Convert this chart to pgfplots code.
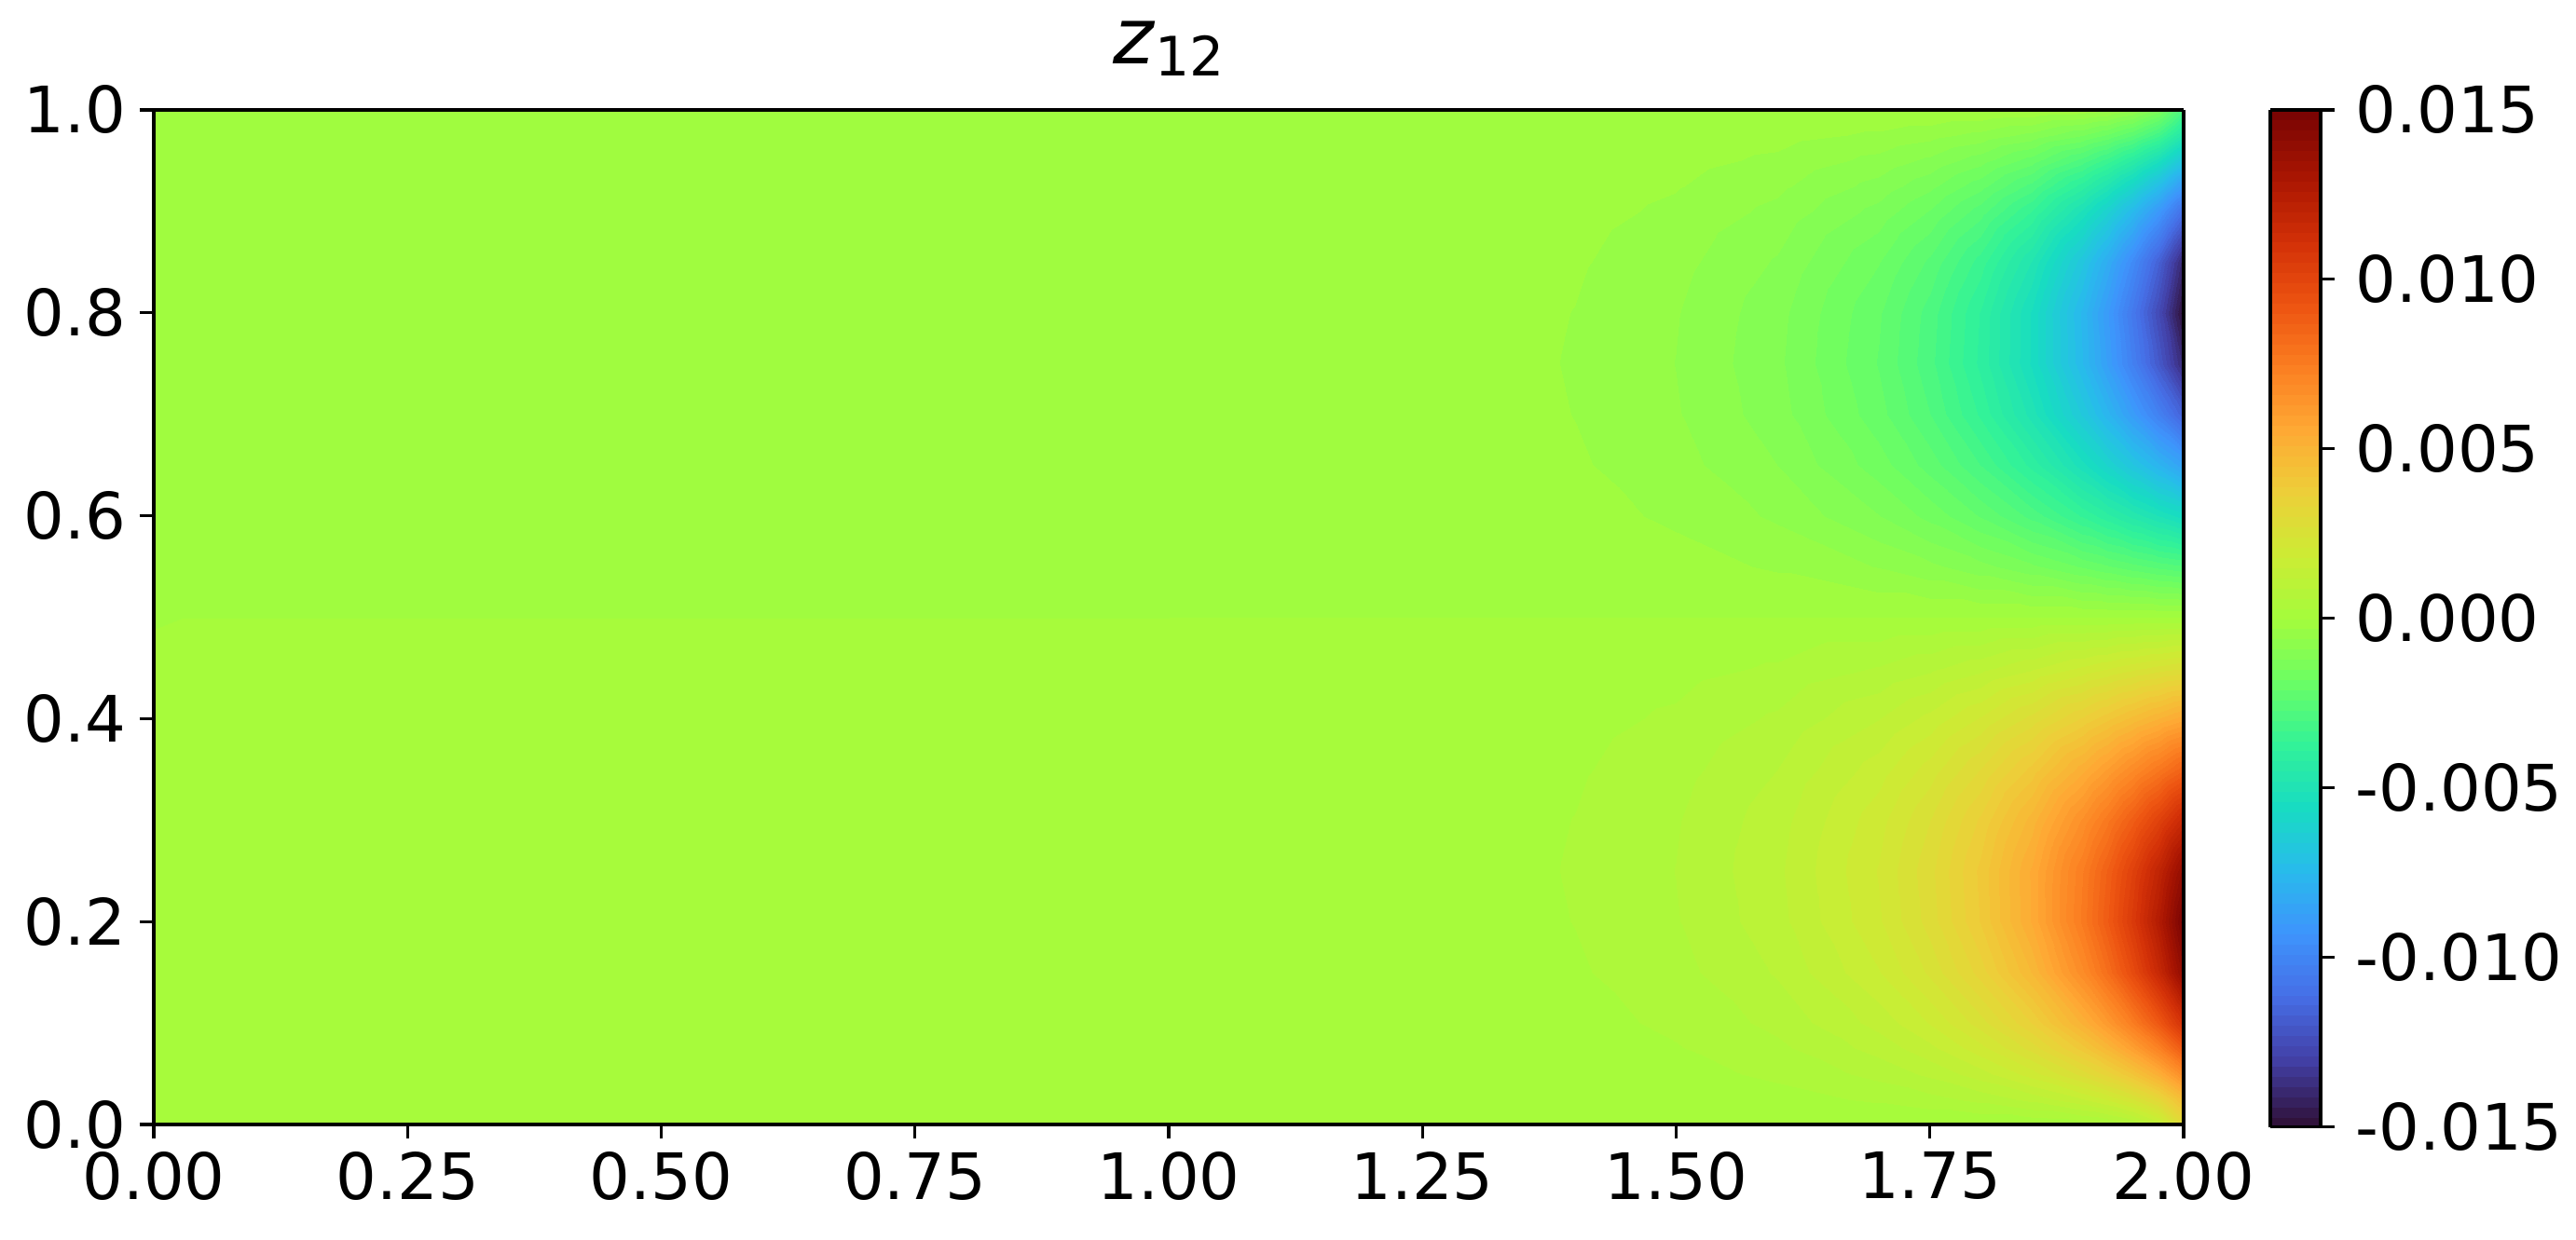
\documentclass[border=0pt]{standalone}
\usepackage{fontspec}
\setmainfont{DejaVu Sans}
\usepackage{pgfplots}
\pgfplotsset{compat=1.18}
\pgfplotsset{colormap={turbo}{
  rgb255=(48,18,59) rgb255=(67,64,167) rgb255=(70,110,230) rgb255=(62,148,252)
  rgb255=(40,187,236) rgb255=(24,220,194) rgb255=(50,242,152) rgb255=(107,254,100)
  rgb255=(164,252,60) rgb255=(204,236,52) rgb255=(237,207,57) rgb255=(254,169,52)
  rgb255=(251,126,33) rgb255=(237,83,17) rgb255=(210,48,7) rgb255=(170,22,2)
  rgb255=(122,4,3)}}

\begin{document}
\begin{tikzpicture}
\begin{axis}[
    name=ax,
    scale only axis,
    width=522.7pt, height=261.4pt,
    view={0}{90},
    xmin=0, xmax=2, ymin=0, ymax=1,
    axis on top,
    tick pos=left,
    tick align=outside,
    major tick length=3.6pt,
    every tick/.style={black, line width=0.8pt},
    axis line style={line width=0.8pt},
    xtick={0,0.25,0.5,0.75,1,1.25,1.5,1.75,2},
    xticklabels={0.00,0.25,0.50,0.75,1.00,1.25,1.50,1.75,2.00},
    ytick={0,0.2,0.4,0.6,0.8,1},
    yticklabels={0.0,0.2,0.4,0.6,0.8,1.0},
    tick label style={font=\fontsize{16.5}{19.8}\selectfont},
    title={\textit{z}\raisebox{-3.1pt}{\fontsize{14}{14}\selectfont 12}},
    title style={font=\fontsize{20}{24}\selectfont, at={(0.5,1)}, anchor=base, yshift=5.8pt},
    colormap name=turbo,
    point meta min=-0.015, point meta max=0.015,
    colorbar,
    colorbar style={
        at={(parent axis.north east)}, anchor=north west, xshift=13.76pt,
        scale only axis,
        width=12.96pt, height=262pt,
        scaled y ticks=false,
        ytick={-0.015,-0.01,-0.005,0,0.005,0.01,0.015},
        yticklabels={-0.015,-0.010,-0.005,0.000,0.005,0.010,0.015},
        ytick pos=right,
        tick align=outside,
        major tick length=3.6pt,
        every tick/.style={black, line width=0.8pt},
        axis line style={line width=0.8pt},
        tick label style={font=\fontsize{16.5}{19.8}\selectfont},
        yticklabel style={xshift=2pt},
    },
]
\addplot3[contour filled={number=100}, mesh/rows=25, mesh/cols=16] coordinates {
(0,0,0.000001) (1,0,0.000001) (1.2,0,0.000001) (1.3,0,0.000001) (1.4,0,0.000001) (1.5,0,0.000001) (1.6,0,0.000001) (1.7,0,0.000001) (1.75,0,0.000001) (1.8,0,0.000004) (1.85,0,0.00002) (1.9,0,0.000107) (1.925,0,0.000246) (1.95,0,0.000567) (1.975,0,0.001304) (2,0,0.003)
(0,0.025,0.000001) (1,0.025,0.000004) (1.2,0.025,0.000014) (1.3,0.025,0.000027) (1.4,0.025,0.000051) (1.5,0.025,0.000096) (1.6,0.025,0.000183) (1.7,0.025,0.000352) (1.75,0.025,0.000492) (1.8,0.025,0.000693) (1.85,0.025,0.000995) (1.9,0.025,0.001471) (1.925,0.025,0.001836) (1.95,0.025,0.002364) (1.975,0.025,0.003202) (2,0.025,0.004661)
(0,0.05,0.000001) (1,0.05,0.000008) (1.2,0.05,0.000028) (1.3,0.05,0.000053) (1.4,0.05,0.0001) (1.5,0.05,0.00019) (1.6,0.05,0.000361) (1.7,0.05,0.000695) (1.75,0.05,0.00097) (1.8,0.05,0.001364) (1.85,0.05,0.001942) (1.9,0.05,0.002807) (1.925,0.05,0.003412) (1.95,0.05,0.0042) (1.975,0.05,0.005273) (2,0.05,0.006832)
(0,0.075,0.000001) (1,0.075,0.000012) (1.2,0.075,0.000042) (1.3,0.075,0.000078) (1.4,0.075,0.000147) (1.5,0.075,0.000279) (1.6,0.075,0.00053) (1.7,0.075,0.001017) (1.75,0.075,0.001419) (1.8,0.075,0.001992) (1.85,0.075,0.002824) (1.9,0.075,0.004052) (1.925,0.075,0.004888) (1.95,0.075,0.005937) (1.975,0.075,0.007286) (2,0.075,0.009081)
(0,0.1,0.000001) (1,0.1,0.000015) (1.2,0.1,0.000054) (1.3,0.1,0.000101) (1.4,0.1,0.00019) (1.5,0.1,0.000361) (1.6,0.1,0.000684) (1.7,0.1,0.001311) (1.75,0.1,0.001826) (1.8,0.1,0.002558) (1.85,0.1,0.003612) (1.9,0.1,0.005157) (1.925,0.1,0.006195) (1.95,0.1,0.007477) (1.975,0.1,0.009084) (2,0.1,0.011138)
(0,0.15,0.000001) (1,0.15,0.000021) (1.2,0.15,0.000074) (1.3,0.15,0.000139) (1.4,0.15,0.000261) (1.5,0.15,0.000494) (1.6,0.15,0.000934) (1.7,0.15,0.001781) (1.75,0.15,0.00247) (1.8,0.15,0.003439) (1.85,0.15,0.004819) (1.9,0.15,0.0068) (1.925,0.15,0.008114) (1.95,0.15,0.009707) (1.975,0.15,0.011654) (2,0.15,0.014059)
(0,0.2,0.000001) (1,0.2,0.000025) (1.2,0.2,0.000087) (1.3,0.2,0.000164) (1.4,0.2,0.000307) (1.5,0.2,0.000578) (1.6,0.2,0.00109) (1.7,0.2,0.002059) (1.75,0.2,0.002839) (1.8,0.2,0.003922) (1.85,0.2,0.005439) (1.9,0.2,0.007572) (1.925,0.2,0.008952) (1.95,0.2,0.010603) (1.975,0.2,0.012581) (2,0.2,0.014981)
(0,0.25,0.000001) (1,0.25,0.000026) (1.2,0.25,0.000092) (1.3,0.25,0.000172) (1.4,0.25,0.000323) (1.5,0.25,0.000605) (1.6,0.25,0.001134) (1.7,0.25,0.002125) (1.75,0.25,0.002911) (1.8,0.25,0.003984) (1.85,0.25,0.005456) (1.9,0.25,0.007469) (1.925,0.25,0.008739) (1.95,0.25,0.010226) (1.975,0.25,0.011964) (2,0.25,0.014)
(0,0.3,0.000001) (1,0.3,0.000025) (1.2,0.3,0.000087) (1.3,0.3,0.000164) (1.4,0.3,0.000306) (1.5,0.3,0.000572) (1.6,0.3,0.001068) (1.7,0.3,0.001983) (1.75,0.3,0.002697) (1.8,0.3,0.003656) (1.85,0.3,0.004939) (1.9,0.3,0.006636) (1.925,0.3,0.00767) (1.95,0.3,0.008847) (1.975,0.3,0.010177) (2,0.3,0.011669)
(0,0.35,0.000001) (1,0.35,0.000021) (1.2,0.35,0.000074) (1.3,0.35,0.000139) (1.4,0.35,0.00026) (1.5,0.35,0.000484) (1.6,0.35,0.0009) (1.7,0.35,0.001657) (1.75,0.35,0.00224) (1.8,0.35,0.003007) (1.85,0.35,0.004009) (1.9,0.35,0.005284) (1.925,0.35,0.006032) (1.95,0.35,0.006852) (1.975,0.35,0.007734) (2,0.35,0.008663)
(0,0.4,0.000001) (1,0.4,0.000015) (1.2,0.4,0.000054) (1.3,0.4,0.000101) (1.4,0.4,0.000189) (1.5,0.4,0.000351) (1.6,0.4,0.00065) (1.7,0.4,0.001187) (1.75,0.4,0.001596) (1.8,0.4,0.002126) (1.85,0.4,0.002802) (1.9,0.4,0.003632) (1.925,0.4,0.004099) (1.95,0.4,0.004589) (1.975,0.4,0.005087) (2,0.4,0.005566)
(0,0.45,0.000001) (1,0.45,0.000008) (1.2,0.45,0.000028) (1.3,0.45,0.000053) (1.4,0.45,0.000099) (1.5,0.45,0.000184) (1.6,0.45,0.000339) (1.7,0.45,0.000619) (1.75,0.45,0.000828) (1.8,0.45,0.001098) (1.85,0.45,0.001436) (1.9,0.45,0.00184) (1.925,0.45,0.002059) (1.95,0.45,0.002282) (1.975,0.45,0.002495) (2,0.45,0.00268)
(0,0.5,0) (1,0.5,0) (1.2,0.5,0) (1.3,0.5,0) (1.4,0.5,0) (1.5,0.5,0) (1.6,0.5,0) (1.7,0.5,0) (1.75,0.5,0) (1.8,0.5,0) (1.85,0.5,0) (1.9,0.5,0) (1.925,0.5,0) (1.95,0.5,0) (1.975,0.5,0) (2,0.5,0)
(0,0.55,-0.000001) (1,0.55,-0.000008) (1.2,0.55,-0.000028) (1.3,0.55,-0.000053) (1.4,0.55,-0.000099) (1.5,0.55,-0.000184) (1.6,0.55,-0.000339) (1.7,0.55,-0.000619) (1.75,0.55,-0.000828) (1.8,0.55,-0.001098) (1.85,0.55,-0.001436) (1.9,0.55,-0.00184) (1.925,0.55,-0.002059) (1.95,0.55,-0.002282) (1.975,0.55,-0.002495) (2,0.55,-0.00268)
(0,0.6,-0.000001) (1,0.6,-0.000015) (1.2,0.6,-0.000054) (1.3,0.6,-0.000101) (1.4,0.6,-0.000189) (1.5,0.6,-0.000351) (1.6,0.6,-0.00065) (1.7,0.6,-0.001187) (1.75,0.6,-0.001596) (1.8,0.6,-0.002126) (1.85,0.6,-0.002802) (1.9,0.6,-0.003632) (1.925,0.6,-0.004099) (1.95,0.6,-0.004589) (1.975,0.6,-0.005087) (2,0.6,-0.005566)
(0,0.65,-0.000001) (1,0.65,-0.000021) (1.2,0.65,-0.000074) (1.3,0.65,-0.000139) (1.4,0.65,-0.00026) (1.5,0.65,-0.000484) (1.6,0.65,-0.0009) (1.7,0.65,-0.001657) (1.75,0.65,-0.00224) (1.8,0.65,-0.003007) (1.85,0.65,-0.004009) (1.9,0.65,-0.005284) (1.925,0.65,-0.006032) (1.95,0.65,-0.006852) (1.975,0.65,-0.007734) (2,0.65,-0.008663)
(0,0.7,-0.000001) (1,0.7,-0.000025) (1.2,0.7,-0.000087) (1.3,0.7,-0.000164) (1.4,0.7,-0.000306) (1.5,0.7,-0.000572) (1.6,0.7,-0.001068) (1.7,0.7,-0.001983) (1.75,0.7,-0.002697) (1.8,0.7,-0.003656) (1.85,0.7,-0.004939) (1.9,0.7,-0.006636) (1.925,0.7,-0.00767) (1.95,0.7,-0.008847) (1.975,0.7,-0.010177) (2,0.7,-0.011669)
(0,0.75,-0.000001) (1,0.75,-0.000026) (1.2,0.75,-0.000092) (1.3,0.75,-0.000172) (1.4,0.75,-0.000323) (1.5,0.75,-0.000605) (1.6,0.75,-0.001134) (1.7,0.75,-0.002125) (1.75,0.75,-0.002911) (1.8,0.75,-0.003984) (1.85,0.75,-0.005456) (1.9,0.75,-0.007469) (1.925,0.75,-0.008739) (1.95,0.75,-0.010226) (1.975,0.75,-0.011964) (2,0.75,-0.014)
(0,0.8,-0.000001) (1,0.8,-0.000025) (1.2,0.8,-0.000087) (1.3,0.8,-0.000164) (1.4,0.8,-0.000307) (1.5,0.8,-0.000578) (1.6,0.8,-0.00109) (1.7,0.8,-0.002059) (1.75,0.8,-0.002839) (1.8,0.8,-0.003922) (1.85,0.8,-0.005439) (1.9,0.8,-0.007572) (1.925,0.8,-0.008952) (1.95,0.8,-0.010603) (1.975,0.8,-0.012581) (2,0.8,-0.014981)
(0,0.85,-0.000001) (1,0.85,-0.000021) (1.2,0.85,-0.000074) (1.3,0.85,-0.000139) (1.4,0.85,-0.000261) (1.5,0.85,-0.000494) (1.6,0.85,-0.000934) (1.7,0.85,-0.001781) (1.75,0.85,-0.00247) (1.8,0.85,-0.003439) (1.85,0.85,-0.004819) (1.9,0.85,-0.0068) (1.925,0.85,-0.008114) (1.95,0.85,-0.009707) (1.975,0.85,-0.011654) (2,0.85,-0.014059)
(0,0.9,-0.000001) (1,0.9,-0.000015) (1.2,0.9,-0.000054) (1.3,0.9,-0.000101) (1.4,0.9,-0.00019) (1.5,0.9,-0.000361) (1.6,0.9,-0.000684) (1.7,0.9,-0.001311) (1.75,0.9,-0.001826) (1.8,0.9,-0.002558) (1.85,0.9,-0.003612) (1.9,0.9,-0.005157) (1.925,0.9,-0.006195) (1.95,0.9,-0.007477) (1.975,0.9,-0.009084) (2,0.9,-0.011138)
(0,0.925,-0.000001) (1,0.925,-0.000012) (1.2,0.925,-0.000042) (1.3,0.925,-0.000078) (1.4,0.925,-0.000147) (1.5,0.925,-0.000279) (1.6,0.925,-0.00053) (1.7,0.925,-0.001017) (1.75,0.925,-0.001419) (1.8,0.925,-0.001992) (1.85,0.925,-0.002824) (1.9,0.925,-0.004052) (1.925,0.925,-0.004888) (1.95,0.925,-0.005937) (1.975,0.925,-0.007286) (2,0.925,-0.009081)
(0,0.95,-0.000001) (1,0.95,-0.000008) (1.2,0.95,-0.000028) (1.3,0.95,-0.000053) (1.4,0.95,-0.0001) (1.5,0.95,-0.00019) (1.6,0.95,-0.000361) (1.7,0.95,-0.000695) (1.75,0.95,-0.00097) (1.8,0.95,-0.001364) (1.85,0.95,-0.001942) (1.9,0.95,-0.002807) (1.925,0.95,-0.003412) (1.95,0.95,-0.0042) (1.975,0.95,-0.005273) (2,0.95,-0.006832)
(0,0.975,-0.000001) (1,0.975,-0.000004) (1.2,0.975,-0.000014) (1.3,0.975,-0.000027) (1.4,0.975,-0.000051) (1.5,0.975,-0.000096) (1.6,0.975,-0.000183) (1.7,0.975,-0.000352) (1.75,0.975,-0.000492) (1.8,0.975,-0.000693) (1.85,0.975,-0.000995) (1.9,0.975,-0.001471) (1.925,0.975,-0.001836) (1.95,0.975,-0.002364) (1.975,0.975,-0.003202) (2,0.975,-0.004661)
(0,1,-0.000001) (1,1,-0.000001) (1.2,1,-0.000001) (1.3,1,-0.000001) (1.4,1,-0.000001) (1.5,1,-0.000001) (1.6,1,-0.000001) (1.7,1,-0.000001) (1.75,1,-0.000001) (1.8,1,-0.000004) (1.85,1,-0.00002) (1.9,1,-0.000107) (1.925,1,-0.000246) (1.95,1,-0.000567) (1.975,1,-0.001304) (2,1,-0.003)
};
\end{axis}
\path (ax.south west) ++(-39.6pt,-29.52pt) rectangle ++(663.36pt,319.2pt);
\end{tikzpicture}
\end{document}
